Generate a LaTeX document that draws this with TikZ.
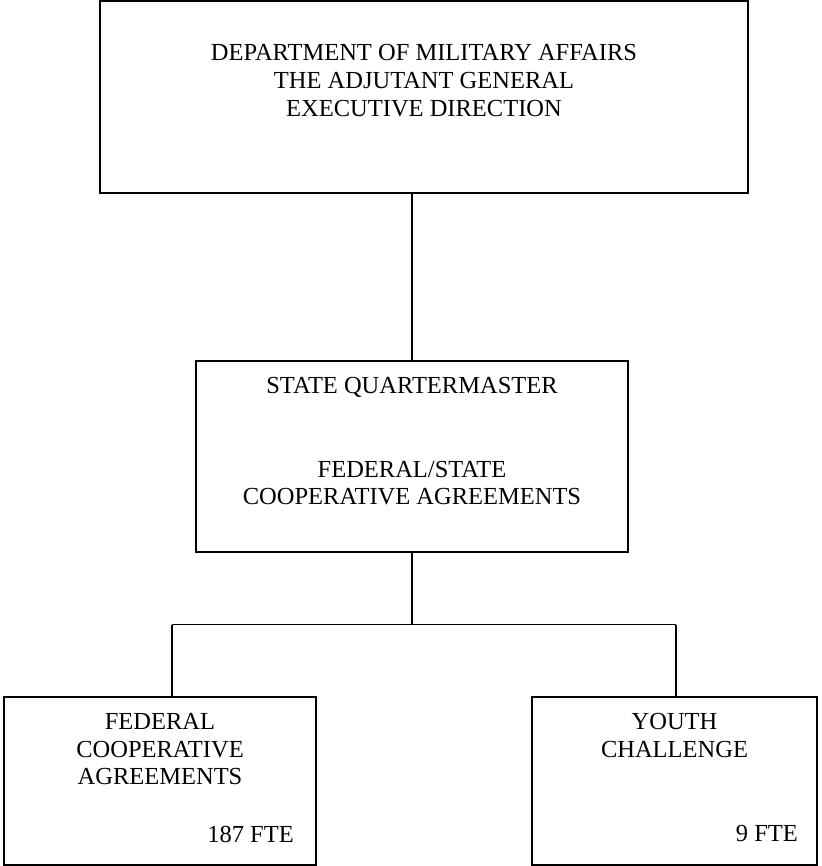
\documentclass[tikz,border=0pt]{standalone}
\usepackage{fontspec}
\setmainfont{Liberation Serif}
\begin{document}
\begin{tikzpicture}[x=1pt,y=-1pt,
  box/.style={draw,line width=2pt,inner sep=0pt,fill=white},
  lbl/.style={inner sep=0pt,align=center,font=\fontsize{24.5pt}{28pt}\selectfont,anchor=base},
  fte/.style={inner sep=0pt,font=\fontsize{24.5pt}{28pt}\selectfont,anchor=base east},
  conn/.style={line width=1.6pt}]
\useasboundingbox (0,0) rectangle (821,866);
% boxes
\node[box,minimum width=648pt,minimum height=192pt] (top) at (424,97) {};
\node[box,minimum width=432pt,minimum height=191pt] (mid) at (412,456.5) {};
\node[box,minimum width=312pt,minimum height=168pt] (fca) at (160,781) {};
\node[box,minimum width=285pt,minimum height=168pt] (yc) at (674.5,781) {};
% texts
\node[lbl] (topA) at (424,61) {DEPARTMENT OF MILITARY AFFAIRS};
\node[lbl] (topB) at (424,89) {THE ADJUTANT GENERAL};
\node[lbl] (topC) at (424,117) {EXECUTIVE DIRECTION};
\node[lbl] (midA) at (412,393) {STATE QUARTERMASTER};
\node[lbl] (midB) at (412,477) {FEDERAL/STATE};
\node[lbl] (midC) at (412,504) {COOPERATIVE AGREEMENTS};
\node[lbl] (fcaA) at (160,729) {FEDERAL};
\node[lbl] (fcaB) at (160,757) {COOPERATIVE};
\node[lbl] (fcaC) at (160,784) {AGREEMENTS};
\node[fte] (fcaF) at (294,842) {187 FTE};
\node[lbl] (ycA) at (674.5,729) {YOUTH};
\node[lbl] (ycB) at (674.5,757) {CHALLENGE};
\node[fte] (ycF) at (798,841) {9 FTE};
% connectors
\coordinate (bus) at (412,624.5);
\coordinate (busL) at (172,624.5);
\coordinate (busR) at (676,624.5);
\draw[conn] (mid.north |- top.south) -- (mid.north);
\draw[conn] (mid.south) -- (bus);
\draw[conn] (busL) -- (busR);
\draw[conn] (busL) -- (busL |- fca.north);
\draw[conn] (busR) -- (busR |- yc.north);
\end{tikzpicture}
\end{document}
